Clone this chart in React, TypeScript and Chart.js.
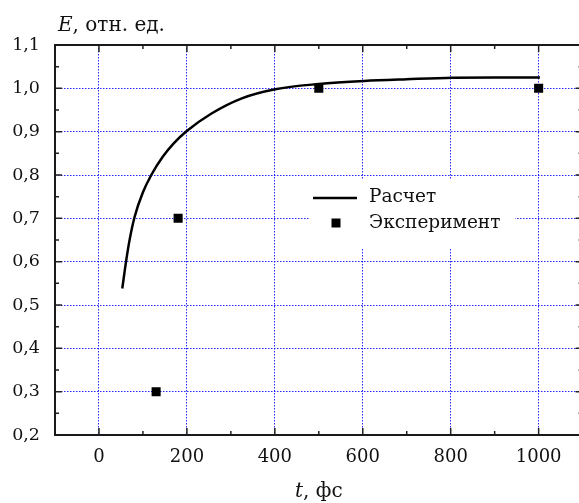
import React, { useEffect, useRef } from 'react';
import { Chart, registerables } from 'chart.js';

Chart.register(...registerables);

// ---- data ----
const calcT = [53, 62, 70, 81, 100, 119, 145, 170, 199, 256, 325, 401, 500, 603, 700, 805, 900, 1003];
const calcE = [0.538, 0.603, 0.652, 0.703, 0.76, 0.80, 0.842, 0.873, 0.901, 0.942, 0.977, 0.998, 1.010, 1.017, 1.021, 1.0245, 1.025, 1.025];

const expT = [130, 180, 500, 1000];
const expE = [0.3, 0.7, 1.0, 1.0];

const xMajor = [0, 200, 400, 600, 800, 1000];
const xMinor = [100, 300, 500, 700, 900];
const yMajor = [0.2, 0.3, 0.4, 0.5, 0.6, 0.7, 0.8, 0.9, 1.0, 1.1];
const yMinor = [0.25, 0.35, 0.45, 0.55, 0.65, 0.75, 0.85, 0.95, 1.05];

const legendLabels = ['Расчет', 'Эксперимент'];
const xTitle = ['t', ', фс'];
const yTitle = ['E', ', отн. ед.'];

const FONT = 'DejaVu Serif';
const GRID = 'rgba(0,0,255,0.85)';

const framePlugin = {
  id: 'frame',
  afterDraw(chart: any) {
    const { ctx, chartArea } = chart;
    const { left, right, top, bottom } = chartArea;
    const xs = chart.scales.x;
    const ys = chart.scales.y;
    ctx.save();

    // legend box
    ctx.fillStyle = '#fff';
    ctx.fillRect(310, 180, 205, 68);
    ctx.strokeStyle = '#000';
    ctx.lineWidth = 2.5;
    ctx.beginPath();
    ctx.moveTo(313, 198);
    ctx.lineTo(357, 198);
    ctx.stroke();
    ctx.fillStyle = '#000';
    ctx.fillRect(331.5, 218.5, 9, 9);
    ctx.font = `18.5px "${FONT}"`;
    ctx.textBaseline = 'middle';
    ctx.textAlign = 'left';
    ctx.fillStyle = '#111';
    ctx.fillText(legendLabels[0], 369, 197);
    ctx.fillText(legendLabels[1], 369, 223);

    // ticks
    ctx.strokeStyle = '#222';
    ctx.lineWidth = 1.5;
    const vt = (v: number, len: number) => {
      const p = xs.getPixelForValue(v);
      ctx.beginPath();
      ctx.moveTo(p, bottom);
      ctx.lineTo(p, bottom - len);
      ctx.moveTo(p, top);
      ctx.lineTo(p, top + len);
      ctx.stroke();
    };
    const ht = (v: number, len: number) => {
      const p = ys.getPixelForValue(v);
      ctx.beginPath();
      ctx.moveTo(left, p);
      ctx.lineTo(left + len, p);
      ctx.moveTo(right, p);
      ctx.lineTo(right - len, p);
      ctx.stroke();
    };
    xMajor.forEach((v) => vt(v, 7));
    xMinor.forEach((v) => vt(v, 4));
    yMajor.forEach((v) => ht(v, 7));
    yMinor.forEach((v) => ht(v, 4));

    // frame
    ctx.strokeStyle = '#1a1a1a';
    ctx.lineWidth = 2;
    ctx.strokeRect(left, top, right - left, bottom - top);

    // titles
    ctx.fillStyle = '#111';
    ctx.textBaseline = 'alphabetic';
    ctx.textAlign = 'left';
    ctx.font = `italic 20px "${FONT}"`;
    const ew = ctx.measureText(yTitle[0]).width;
    ctx.fillText(yTitle[0], 58, 31);
    ctx.font = `20px "${FONT}"`;
    ctx.fillText(yTitle[1], 58 + ew, 31);

    ctx.font = `italic 20px "${FONT}"`;
    const tw = ctx.measureText(xTitle[0]).width;
    ctx.font = `20px "${FONT}"`;
    const rw = ctx.measureText(xTitle[1]).width;
    const cx = (left + right) / 2;
    const sx = cx - (tw + rw) / 2;
    ctx.font = `italic 20px "${FONT}"`;
    ctx.fillText(xTitle[0], sx, 497);
    ctx.font = `20px "${FONT}"`;
    ctx.fillText(xTitle[1], sx + tw, 497);

    ctx.restore();
  },
};

export default function App() {
  const ref = useRef<HTMLCanvasElement>(null);
  useEffect(() => {
    const canvas = ref.current!;
    const chart = new Chart(canvas, {
      type: 'scatter',
      data: {
        datasets: [
          {
            label: legendLabels[0],
            data: calcT.map((t, i) => ({ x: t, y: calcE[i] })),
            showLine: true,
            borderColor: '#000',
            borderWidth: 2.5,
            pointRadius: 0,
            cubicInterpolationMode: 'monotone',
          },
          {
            label: legendLabels[1],
            data: expT.map((t, i) => ({ x: t, y: expE[i] })),
            showLine: false,
            pointStyle: 'rect',
            pointRadius: 6.4,
            borderWidth: 0,
            backgroundColor: '#000',
            borderColor: '#000',
          },
        ],
      },
      options: {
        responsive: false,
        animation: false,
        devicePixelRatio: 1,
        layout: { padding: { top: 45, right: 2, left: 0, bottom: 0 } },
        plugins: { legend: { display: false }, tooltip: { enabled: false } },
        scales: {
          x: {
            type: 'linear',
            min: -100,
            max: 1100,
            afterBuildTicks: (s: any) => {
              s.ticks = xMajor.map((v) => ({ value: v }));
            },
            afterFit: (s: any) => {
              s.height = 68;
            },
            ticks: {
              autoSkip: false,
              maxRotation: 0,
              padding: 12,
              color: '#111',
              font: { family: FONT, size: 18 },
              callback: (v: any) => String(v),
            },
            grid: { color: GRID, lineWidth: 1, drawTicks: false },
            border: { display: false, dash: [1.5, 1.5] },
          },
          y: {
            type: 'linear',
            min: 0.2,
            max: 1.1,
            afterBuildTicks: (s: any) => {
              s.ticks = yMajor.map((v) => ({ value: v }));
            },
            afterFit: (s: any) => {
              s.width = 55;
            },
            ticks: {
              autoSkip: false,
              padding: 15,
              color: '#111',
              font: { family: FONT, size: 17.5 },
              callback: (v: any) => Number(v).toFixed(1).replace('.', ','),
            },
            grid: {
              color: (c: any) =>
                c.tick && (Math.abs(c.tick.value - 0.2) < 1e-6 || Math.abs(c.tick.value - 1.1) < 1e-6)
                  ? 'rgba(0,0,0,0)'
                  : GRID,
              lineWidth: 1,
              drawTicks: false,
            },
            border: { display: false, dash: [1.5, 1.5] },
          },
        },
      },
      plugins: [framePlugin],
    } as any);
    return () => chart.destroy();
  }, []);

  return (
    <div style={{ position: 'fixed', left: 0, top: 0, width: 579, height: 503, overflow: 'hidden', background: '#fff' }}>
      <canvas ref={ref} width={589} height={503} style={{ display: 'block' }} />
    </div>
  );
}
